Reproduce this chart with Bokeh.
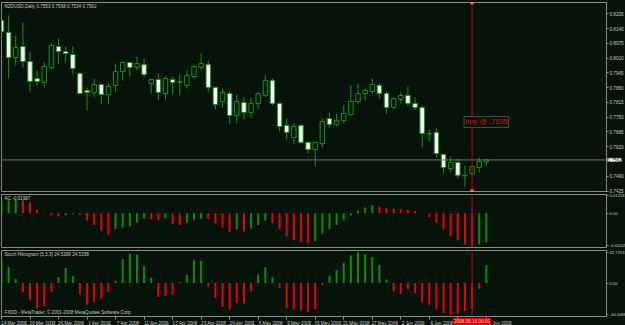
import pandas as pd
from bokeh.plotting import figure
from bokeh.layouts import column
from bokeh.models import Range1d, FixedTicker, Span, Label, ColumnDataSource, NumeralTickFormatter
from bokeh.embed import file_html
from bokeh.resources import INLINE

# ---------------- data ----------------
dates = pd.bdate_range("2008-03-14", "2008-06-18")
idx = list(range(len(dates)))

opens = [0.8176, 0.8123, 0.8013, 0.8061, 0.7995, 0.7920, 0.7903, 0.7969, 0.8061, 0.8039,
         0.8026, 0.7942, 0.7867, 0.7859, 0.7894, 0.7850, 0.7890, 0.7951, 0.7991, 0.7969,
         0.7982, 0.7898, 0.7916, 0.7854, 0.7916, 0.7903, 0.7890, 0.7929, 0.7969, 0.7982,
         0.7881, 0.7819, 0.7854, 0.7758, 0.7815, 0.7771, 0.7810, 0.7846, 0.7912, 0.7810,
         0.7714, 0.7661, 0.7714, 0.7639, 0.7608, 0.7634, 0.7744, 0.7718, 0.7736, 0.7762,
         0.7819, 0.7854, 0.7863, 0.7890, 0.7854, 0.7793, 0.7828, 0.7846, 0.7810, 0.7793,
         0.7678, 0.7683, 0.7586, 0.7524, 0.7551, 0.7494, 0.7502, 0.7529, 0.7553]
highs = [0.8211, 0.8198, 0.8110, 0.8167, 0.8039, 0.7956, 0.7991, 0.8074, 0.8096, 0.8061,
         0.8061, 0.7951, 0.7881, 0.7920, 0.7898, 0.7898, 0.7986, 0.7995, 0.7995, 0.8017,
         0.8008, 0.7920, 0.7942, 0.7929, 0.7929, 0.7938, 0.7956, 0.7982, 0.8030, 0.7999,
         0.7885, 0.7876, 0.7867, 0.7850, 0.7837, 0.7837, 0.7859, 0.7934, 0.7920, 0.7815,
         0.7744, 0.7722, 0.7718, 0.7643, 0.7643, 0.7744, 0.7771, 0.7766, 0.7802, 0.7890,
         0.7898, 0.7881, 0.7920, 0.7898, 0.7863, 0.7837, 0.7859, 0.7885, 0.7837, 0.7797,
         0.7696, 0.7700, 0.7590, 0.7577, 0.7568, 0.7537, 0.7537, 0.7573, 0.7568]
lows = [0.8088, 0.7920, 0.7978, 0.7969, 0.7863, 0.7890, 0.7881, 0.7960, 0.7986, 0.7991,
        0.7938, 0.7850, 0.7780, 0.7837, 0.7810, 0.7810, 0.7863, 0.7912, 0.7929, 0.7956,
        0.7925, 0.7854, 0.7824, 0.7828, 0.7850, 0.7846, 0.7876, 0.7920, 0.7956, 0.7859,
        0.7784, 0.7793, 0.7722, 0.7722, 0.7740, 0.7749, 0.7784, 0.7837, 0.7802, 0.7687,
        0.7652, 0.7630, 0.7634, 0.7590, 0.7533, 0.7617, 0.7705, 0.7709, 0.7722, 0.7758,
        0.7810, 0.7824, 0.7854, 0.7832, 0.7766, 0.7784, 0.7810, 0.7797, 0.7784, 0.7617,
        0.7643, 0.7573, 0.7502, 0.7507, 0.7480, 0.7445, 0.7494, 0.7507, 0.7534]
closes = [0.8127, 0.8013, 0.8057, 0.7995, 0.7907, 0.7907, 0.7973, 0.8066, 0.8039, 0.8030,
          0.7964, 0.7854, 0.7859, 0.7894, 0.7850, 0.7885, 0.7951, 0.7991, 0.7969, 0.7986,
          0.7938, 0.7916, 0.7859, 0.7920, 0.7903, 0.7907, 0.7934, 0.7973, 0.7986, 0.7881,
          0.7806, 0.7859, 0.7758, 0.7819, 0.7771, 0.7810, 0.7854, 0.7912, 0.7810, 0.7709,
          0.7683, 0.7709, 0.7639, 0.7608, 0.7639, 0.7731, 0.7718, 0.7736, 0.7766, 0.7819,
          0.7854, 0.7867, 0.7894, 0.7854, 0.7793, 0.7832, 0.7846, 0.7810, 0.7793, 0.7678,
          0.7676, 0.7590, 0.7529, 0.7551, 0.7494, 0.7492, 0.7533, 0.7555, 0.7562]

ac = [0.0080, 0.0088, 0.0092, 0.0089, 0.0076, 0.0027, 0.0003, -0.0013, -0.0022, -0.0013,
      -0.0005, -0.0009, -0.0049, -0.0081, -0.0119, -0.0148, -0.0108, -0.0097, -0.0090, -0.0063,
      -0.0036, -0.0040, -0.0047, -0.0036, -0.0074, -0.0081, -0.0063, -0.0045, -0.0036, -0.0040,
      -0.0070, -0.0095, -0.0130, -0.0110, -0.0125, -0.0105, -0.0080, -0.0050, -0.0065, -0.0110,
      -0.0160, -0.0185, -0.0200, -0.0205, -0.0190, -0.0140, -0.0110, -0.0080, -0.0050, -0.0015,
      0.0020, 0.0040, 0.0055, 0.0045, 0.0035, 0.0032, 0.0029, 0.0022, 0.0016, 0.0003,
      -0.0027, -0.0063, -0.0112, -0.0157, -0.0187, -0.0214, -0.02245, -0.0213, -0.01987]

stoch = [30.0, 22.0, 6.0, -12.5, -24.0, -35.6, -31.9, -12.5, 8.3, 20.8,
         9.7, -16.2, -30.0, -26.3, -21.7, -12.5, 2.3, 32.8, 40.6, 39.2,
         23.5, 7.4, -19.4, -18.0, -16.2, 1.4, 11.5, 31.4, 31.0, -5.0,
         -20.8, -33.2, -36.4, -27.2, -28.5, -11.5, 12.0, 22.0, 8.0, -6.9,
         -34.6, -36.4, -37.8, -40.2, -36.4, -3.0, 10.0, 18.0, 28.0, 38.0,
         42.7374, 40.0, 36.0, 25.0, 5.0, -11.5, -14.8, -7.8, -13.9, -26.3,
         -30.0, -36.5, -41.6, -44.0088, -42.5, -38.8, -35.6, -7.8, 24.5398]

price_ticks = [0.8205, 0.8140, 0.8075, 0.8010, 0.7945, 0.7880, 0.7815,
               0.7750, 0.7685, 0.7620, 0.7490, 0.7425]
ac_ticks = [0.01224, 0.0, -0.02245]
stoch_ticks = [42.7374, 0.0, -44.0088]
label_idx = idx[::4]
label_text = [dates[i].strftime("%-d %b %Y") for i in label_idx]
last_price = 0.7562
signal_idx = 66
signal_text = "buy @ .7535"
signal_price = 0.7729
signal_date = "2008.06.16 00:00"
title_main = "NZDUSD,Daily  0.7553 0.7568 0.7534 0.7562"
title_ac = "AC  -0.01987"
title_stoch = "Stoch Histogram (5,3,3) 24.5398 24.5398"
footer = "FXDD - MetaTrader, \u00a9 2001-2008 MetaQuotes Software Corp."

# ---------------- style ----------------
BG = "#06130a"
FRAME = "#8a8a8a"
CANDLE = "#169416"
TXT = "#c8c8c8"
FONT = "Liberation Sans"
FS = "4.6px"
FS_SMALL = "4.2px"
GREEN = "#0c8c0c"
RED = "#f00000"
FW = 605
BAR_PX = 7.13

x_range = Range1d(0, FW / BAR_PX)


def make_fig(fh, yr, top, bottom, below=False, fs=FS):
    p = figure(frame_width=FW, frame_height=fh, x_range=x_range, y_range=yr,
               y_axis_location="right", x_axis_location="below" if below else None,
               toolbar_location=None, output_backend="svg",
               background_fill_color=BG, border_fill_color=BG,
               outline_line_color=FRAME, outline_line_width=1,
               min_border_left=1, min_border_right=0,
               min_border_top=top, min_border_bottom=bottom)
    p.xgrid.visible = False
    p.ygrid.visible = False
    ax = p.yaxis[0]
    ax.axis_line_color = FRAME
    ax.major_tick_line_color = FRAME
    ax.major_tick_out = 2
    ax.major_tick_in = 0
    ax.minor_tick_line_color = None
    ax.major_label_standoff = 1
    ax.major_label_text_font = FONT
    ax.major_label_text_font_size = fs
    ax.major_label_text_color = TXT
    return p


def title_label(p, text, yr):
    p.add_layout(Label(x=0, y=yr.end, x_offset=3, y_offset=-1, text=text,
                       text_font=FONT, text_font_size=FS, text_color=TXT,
                       text_baseline="top", text_align="left"))


# ---------------- main candles ----------------
yr1 = Range1d(0.74231, 0.82547)
p1 = make_fig(189, yr1, 2, 2)
p1.yaxis[0].ticker = FixedTicker(ticks=price_ticks)
p1.yaxis[0].formatter = NumeralTickFormatter(format="0.0000")

bull = [c >= o for o, c in zip(opens, closes)]
src = ColumnDataSource(dict(
    x=idx, o=opens, h=highs, l=lows, c=closes,
    top=[max(o, c) for o, c in zip(opens, closes)],
    bot=[min(o, c) for o, c in zip(opens, closes)],
    fill=[BG if b else "white" for b in bull]))
p1.add_layout(Span(location=last_price, dimension="width", line_color="#6f736f", line_width=1))
p1.segment(x0="x", y0="l", x1="x", y1="h", source=src, line_color=CANDLE, line_width=1)
p1.vbar(x="x", top="top", bottom="bot", width=0.62, source=src,
        fill_color="fill", line_color=CANDLE, line_width=1)
p1.add_layout(Span(location=signal_idx, dimension="height", line_color="#d00000", line_width=1))
p1.scatter(x=[signal_idx, signal_idx], y=[yr1.end, 0.7425], marker="square", size=3.5,
           fill_color="white", line_color="#d00000", line_width=1)
title_label(p1, title_main, yr1)
p1.add_layout(Label(x=68, y=signal_price, text=signal_text, text_font=FONT,
                    text_font_size="7.5px", text_color="#e00000",
                    text_align="center", text_baseline="middle",
                    border_line_color="#4a4a4a", border_line_width=1,
                    background_fill_color=BG, padding=1))
p1.add_layout(Label(x=x_range.end, y=last_price, x_offset=1, text="0.7562",
                    text_font=FONT, text_font_size=FS, text_color="black",
                    text_align="left", text_baseline="middle",
                    background_fill_color="white", padding=0), "right")

# ---------------- AC ----------------
yr2 = Range1d(-0.0235, 0.01224 + 0.0007)
p2 = make_fig(53, yr2, 1, 2, fs=FS_SMALL)
p2.yaxis[0].ticker = FixedTicker(ticks=ac_ticks)
p2.yaxis[0].major_label_overrides = {0.01224: "0.01224", 0.0: "0.00", -0.02245: "-0.02245"}
ac_col = [GREEN] + [GREEN if ac[i] > ac[i - 1] else RED for i in range(1, len(ac))]
p2.vbar(x=idx, top=ac, bottom=0, width=0.28, fill_color=ac_col, line_color=None)
p2.add_layout(Span(location=signal_idx, dimension="height", line_color="#d00000", line_width=1))
title_label(p2, title_ac, yr2)

# ---------------- Stoch histogram ----------------
yr3 = Range1d(-46.4, 45.1)
p3 = make_fig(66, yr3, 1, 0, below=True, fs=FS_SMALL)
p3.yaxis[0].ticker = FixedTicker(ticks=stoch_ticks)
p3.yaxis[0].major_label_overrides = {42.7374: "42.7374", 0.0: "0.00", -44.0088: "-44.0088"}
st_col = [GREEN if v >= 0 else RED for v in stoch]
p3.vbar(x=idx, top=stoch, bottom=0, width=0.28, fill_color=st_col, line_color=None)
p3.add_layout(Span(location=signal_idx, dimension="height", line_color="#d00000", line_width=1))
title_label(p3, title_stoch, yr3)
p3.add_layout(Label(x=0, y=yr3.start, x_offset=3, y_offset=2, text=footer,
                    text_font=FONT, text_font_size=FS, text_color=TXT,
                    text_align="left", text_baseline="bottom"))

SHIFT = 1.75
xa = p3.xaxis[0]
xa.ticker = FixedTicker(ticks=[i + SHIFT for i in label_idx], minor_ticks=label_idx)
xa.major_label_overrides = {i + SHIFT: t for i, t in zip(label_idx, label_text)}
xa.axis_line_color = FRAME
xa.major_tick_line_color = None
xa.major_tick_out = 0
xa.major_tick_in = 0
xa.minor_tick_line_color = FRAME
xa.minor_tick_out = 3
xa.minor_tick_in = 0
xa.major_label_standoff = 1
xa.major_label_text_font = FONT
xa.major_label_text_font_size = FS
xa.major_label_text_color = TXT
p3.add_layout(Label(x=signal_idx, y=yr3.start, y_offset=-5, text=signal_date,
                    text_font=FONT, text_font_size=FS, text_color="#ffd0d0",
                    text_align="center", text_baseline="middle",
                    background_fill_color="#e00000", padding=1), "below")

layout = column(p1, p2, p3, spacing=0, styles={"background-color": BG})
html = file_html(layout, INLINE)
html = html.replace("<body>", '<body style="margin:0;background:%s">' % BG)
open("out.html", "w").write(html)
